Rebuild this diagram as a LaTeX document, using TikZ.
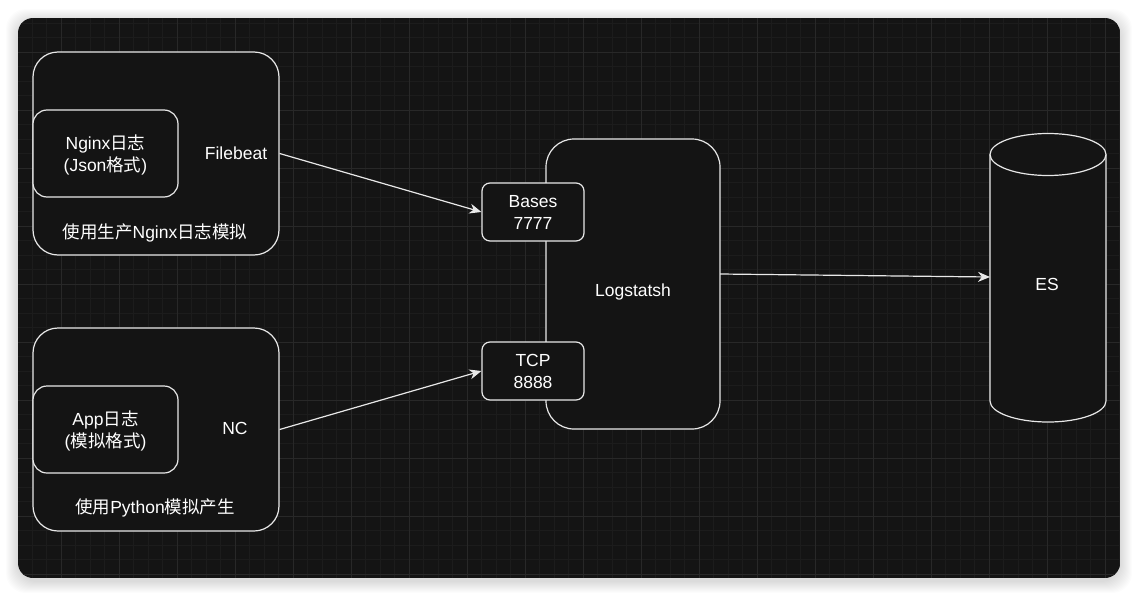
\documentclass[tikz,border=0pt]{standalone}
\usepackage{fontspec}
\setmainfont{Liberation Sans}
\newfontfamily\cjkfont{Noto Sans CJK SC}
\newcommand{\zhtxt}[1]{{\cjkfont #1}}
\usetikzlibrary{arrows.meta}
\definecolor{panelbg}{HTML}{141414}
\definecolor{gridminor}{HTML}{1C1C1C}
\definecolor{gridmajor}{HTML}{282828}
\definecolor{linec}{HTML}{E8E8E8}
\tikzset{
  box/.style={draw=linec, line width=1.2pt, fill=panelbg, inner sep=0pt},
  bigbox/.style={box, rounded corners=25pt, minimum width=246pt, minimum height=203pt},
  innerbox/.style={box, rounded corners=14pt, minimum width=145pt, minimum height=87pt},
  portbox/.style={box, rounded corners=8pt, minimum width=102pt, minimum height=58pt},
  lbl/.style={text=white, align=center, inner sep=0pt, font=\fontsize{17.5}{22}\selectfont},
  flow/.style={draw=linec, line width=1.2pt, -{Stealth[length=12pt,width=10pt]}},
}
\begin{document}
\begin{tikzpicture}[x=1pt,y=-1pt]
\useasboundingbox (0,0) rectangle (1138,597);
\fill[white] (0,0) rectangle (1138,597);
% shadow
\foreach \i in {1,...,12}{
  \fill[black, opacity=0.01, rounded corners=20pt] (18-\i,18-\i+3) rectangle (1120+\i,578+\i+3);
}
% panel
\begin{scope}
\clip[rounded corners=15pt] (18,18) rectangle (1120,578);
\fill[panelbg] (18,18) rectangle (1120,578);
\foreach \i in {0,...,78}{
  \draw[gridminor, line width=0.8pt] (3+14.5*\i,18) -- (3+14.5*\i,578);
}
\foreach \i in {0,...,40}{
  \draw[gridminor, line width=0.8pt] (18,-6+14.5*\i) -- (1120,-6+14.5*\i);
}
\foreach \i in {0,...,19}{
  \draw[gridmajor, line width=0.8pt] (3+58*\i,18) -- (3+58*\i,578);
}
\foreach \i in {0,...,10}{
  \draw[gridmajor, line width=0.8pt] (18,-6+58*\i) -- (1120,-6+58*\i);
}
\end{scope}

% top group
\node[bigbox] (g1) at (156,153.5) {};
\node[innerbox] (nginx) at (105.5,153.5) {};
\node[lbl] (nginxt) at (105.5,155) {Nginx\zhtxt{日志}\\(Json\zhtxt{格式})};
\node[lbl] (filebeat) at (236,153) {Filebeat};
\node[lbl] (g1t) at (155,233) {\zhtxt{使用生产}Nginx\zhtxt{日志模拟}};

% bottom group
\node[bigbox] (g2) at (156,429.5) {};
\node[innerbox] (app) at (105.5,429.5) {};
\node[lbl] (appt) at (105.5,431) {App\zhtxt{日志}\\(\zhtxt{模拟格式})};
\node[lbl] (nc) at (235,428) {NC};
\node[lbl] (g2t) at (155,508) {\zhtxt{使用}Python\zhtxt{模拟产生}};

% logstash
\node[box, rounded corners=28pt, minimum width=174pt, minimum height=290pt] (ls) at (633,284) {};
\node[lbl] (lst) at (633,292) {Logstatsh};
\node[portbox] (bases) at (533,212) {};
\node[lbl] (basest) at (533,212) {Bases\\7777};
\node[portbox] (tcp) at (533,371) {};
\node[lbl] (tcpt) at (533,371) {TCP\\8888};

% ES cylinder
\filldraw[draw=linec, fill=panelbg, line width=1.2pt]
  (990,154.5) -- (990,401) arc[start angle=180,end angle=360,x radius=58pt,y radius=21pt]
  -- (1106,154.5) arc[start angle=0,end angle=180,x radius=58pt,y radius=21pt] -- cycle;
\draw[linec, line width=1.2pt] (990,154.5) arc[start angle=180,end angle=360,x radius=58pt,y radius=21pt];
\node[lbl] (es) at (1047,284) {ES};
\coordinate (lsout) at (720,274);
\coordinate (esin) at (990,277);

% connectors
\draw[flow] (g1.east) -- (bases.west);
\draw[flow] (g2.east) -- (tcp.west);
\draw[flow] (lsout) -- (esin);
\end{tikzpicture}
\end{document}
